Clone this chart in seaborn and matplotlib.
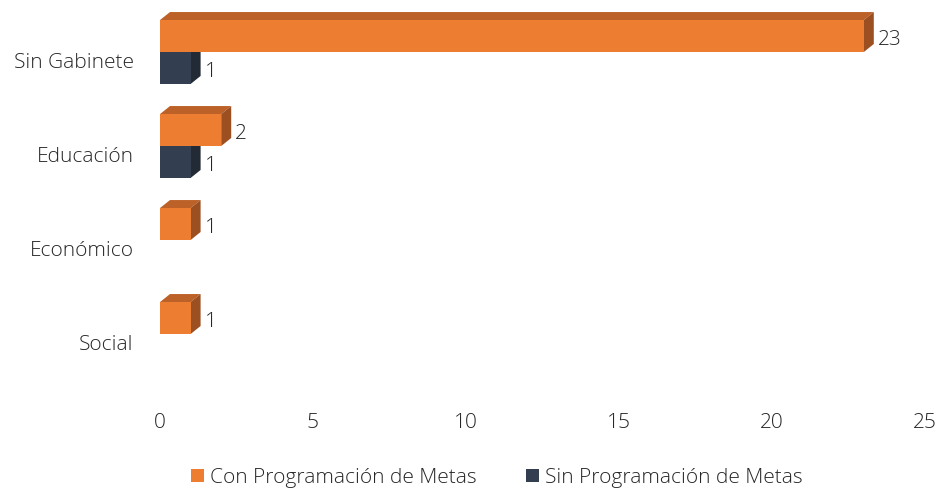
import pandas as pd
import matplotlib
matplotlib.use("Agg")
import matplotlib.pyplot as plt
import matplotlib.transforms as mtransforms
from matplotlib.patches import Polygon, Patch
import seaborn as sns

# data
categories = ["Sin Gabinete", "Educación", "Económico", "Social"]
con_metas = [23, 2, 1, 1]
sin_metas = [1, 1, 0, 0]
series = ["Con Programación de Metas", "Sin Programación de Metas"]
x_ticks = [0, 5, 10, 15, 20, 25]

front = {series[0]: "#ED7D31", series[1]: "#333F50"}
top_col = {series[0]: "#BC6128", series[1]: "#28323F"}
side_col = {series[0]: "#9C5021", series[1]: "#222A36"}
TXT = "#262626"
FS = 15
DX, DY = 10, 8  # depth of the fake 3d, in pixels

df = pd.DataFrame({
    "area": categories * 2,
    "serie": [series[0]] * 4 + [series[1]] * 4,
    "valor": con_metas + sin_metas,
})

sns.set_theme(style="white")
plt.rcParams["font.family"] = ["Open Sans", "DejaVu Sans"]
plt.rcParams["font.weight"] = "light"

fig = plt.figure(figsize=(9.37, 4.88), dpi=100)
ax = fig.add_axes([160 / 937, 107 / 488, 765 / 937, 376 / 488])

sns.barplot(data=df, y="area", x="valor", hue="serie", order=categories,
            hue_order=series, palette=front, orient="h", width=0.68,
            saturation=1, linewidth=0, legend=False, ax=ax)

ax.set_xlim(0, 25)
ax.set_ylim(3.5, -0.5)
ax.set_xticks(x_ticks)
ax.set_xlabel("")
ax.set_ylabel("")
sns.despine(ax=ax, left=True, bottom=True)
ax.tick_params(axis="x", length=0, pad=23, labelsize=FS, labelcolor=TXT)
ax.tick_params(axis="y", length=0, pad=19, labelsize=FS, labelcolor=TXT)
for lab in ax.get_yticklabels():
    lab.set_transform(lab.get_transform() +
                      mtransforms.ScaledTranslation(0, -0.08, fig.dpi_scale_trans))

# fake 3d faces: top and right side of every bar
fig.canvas.draw()
ident = mtransforms.IdentityTransform()
bars = list(ax.patches)
n = len(categories)
for i, bar in enumerate(bars):
    s = series[i // n]
    z = 3 if s == series[0] else 2
    bar.set_zorder(z)
    w = bar.get_width()
    if w <= 0:
        continue
    x0, y0 = bar.get_x(), bar.get_y()
    h = bar.get_height()
    (xl, yb), (xr, yt) = ax.transData.transform([(x0, y0 + h), (x0 + w, y0)])
    top = Polygon([(xl, yt), (xr, yt), (xr + DX, yt + DY), (xl + DX, yt + DY)],
                  closed=True, transform=ident, facecolor=top_col[s],
                  edgecolor="none", zorder=z - 0.5, clip_on=False)
    side = Polygon([(xr, yb), (xr, yt), (xr + DX, yt + DY), (xr + DX, yb + DY)],
                   closed=True, transform=ident, facecolor=side_col[s],
                   edgecolor="none", zorder=z - 0.5, clip_on=False)
    ax.add_artist(top)
    ax.add_artist(side)
    ax.annotate(f"{w:.0f}", xy=(x0 + w, y0 + h / 2), xytext=(DX + 4, -4),
                textcoords="offset pixels", ha="left", va="center",
                fontsize=FS, color=TXT, zorder=5)

handles = [Patch(facecolor=front[s], edgecolor="none", label=s) for s in series]
fig.legend(handles=handles, loc="center", bbox_to_anchor=(497 / 937, 10 / 488),
           ncol=2, frameon=False, fontsize=FS, labelcolor=TXT,
           handlelength=0.6, handleheight=0.6, handletextpad=0.3,
           columnspacing=2.4)

fig.savefig("out.png", dpi=100)
